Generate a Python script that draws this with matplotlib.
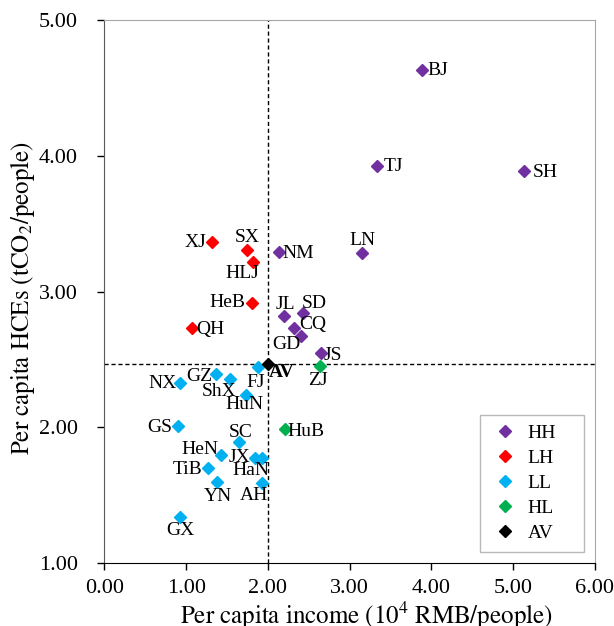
import matplotlib
matplotlib.use("Agg")
import matplotlib.pyplot as plt

plt.rcParams['font.family'] = ['Liberation Serif', 'DejaVu Serif']
plt.rcParams['mathtext.fontset'] = 'stix'

# province data: name, group, income (10^4 RMB/people), HCEs (tCO2/people)
names = ['BJ', 'TJ', 'SH', 'LN', 'NM', 'JL', 'SD', 'CQ', 'GD', 'JS',
         'XJ', 'SX', 'HLJ', 'HeB', 'QH',
         'FJ', 'GZ', 'ShX', 'NX', 'HuN', 'GS', 'SC', 'HeN', 'JX', 'HaN',
         'TiB', 'YN', 'AH', 'GX',
         'ZJ', 'HuB',
         'AV']
groups = ['HH'] * 10 + ['LH'] * 5 + ['LL'] * 14 + ['HL'] * 2 + ['AV']
income = [3.88, 3.33, 5.13, 3.15, 2.13, 2.20, 2.43, 2.32, 2.40, 2.65,
          1.32, 1.74, 1.82, 1.80, 1.07,
          1.88, 1.36, 1.54, 0.92, 1.73, 0.90, 1.65, 1.43, 1.84, 1.93,
          1.27, 1.38, 1.93, 0.93,
          2.64, 2.21,
          2.00]
hces = [4.635, 3.93, 3.89, 3.285, 3.29, 2.82, 2.84, 2.735, 2.675, 2.55,
        3.365, 3.31, 3.22, 2.92, 2.73,
        2.445, 2.39, 2.355, 2.33, 2.24, 2.01, 1.89, 1.80, 1.775, 1.775,
        1.70, 1.595, 1.59, 1.34,
        2.45, 1.99,
        2.47]

group_order = ['HH', 'LH', 'LL', 'HL', 'AV']
group_colors = {'HH': '#7030A0', 'LH': '#FF0000', 'LL': '#00B0F0',
                'HL': '#00B050', 'AV': '#000000'}

# label offsets in pixels (text centre relative to the marker)
label_offsets = {
    'BJ': (16, -1), 'TJ': (17, -1), 'SH': (21, -1), 'LN': (1, 13),
    'NM': (20, -1), 'JL': (1, 12), 'SD': (11, 10), 'CQ': (19, 3),
    'GD': (-14, -9), 'JS': (12, -3), 'XJ': (-17, 0), 'SX': (1, 12),
    'HLJ': (-11, -12), 'HeB': (-24, 0), 'QH': (19, -1), 'FJ': (-2, -15),
    'GZ': (-16, -2), 'ShX': (-11, -12), 'NX': (-17, -1), 'HuN': (-1, -10),
    'GS': (-18, -1), 'SC': (1, 10), 'HeN': (-21, 5), 'JX': (-15, 0),
    'HaN': (-11, -13), 'TiB': (-21, -1), 'YN': (1, -14), 'AH': (-8, -13),
    'GX': (0, -14), 'ZJ': (-2, -14), 'HuB': (21, -3), 'AV': (14, -9),
}

fig = plt.figure(figsize=(6.14, 6.26), dpi=100)
ax = fig.add_axes([0.170, 0.1006, 0.799, 0.8667])

av_x = income[names.index('AV')]
av_y = hces[names.index('AV')]
ax.axvline(av_x, color='black', lw=1, ls=(0, (3, 2)), zorder=1)
ax.axhline(av_y, color='black', lw=1, ls=(0, (3, 2)), zorder=1)

for g in group_order:
    xs = [x for x, gg in zip(income, groups) if gg == g]
    ys = [y for y, gg in zip(hces, groups) if gg == g]
    ax.plot(xs, ys, ls='none', marker='D', ms=6.5, color=group_colors[g],
            label=g, zorder=3)

for n, x, y in zip(names, income, hces):
    dx, dy = label_offsets[n]
    ax.annotate(n, (x, y), xytext=(dx, dy), textcoords='offset pixels',
                ha='center', va='center', fontsize=14,
                fontweight='bold' if n == 'AV' else 'normal', zorder=4)

ax.set_xlim(0, 6)
ax.set_ylim(1, 5)
ax.set_xticks([0, 1, 2, 3, 4, 5, 6])
ax.set_yticks([1, 2, 3, 4, 5])
ax.xaxis.set_major_formatter(matplotlib.ticker.FormatStrFormatter('%.2f'))
ax.yaxis.set_major_formatter(matplotlib.ticker.FormatStrFormatter('%.2f'))
ax.tick_params(axis='both', labelsize=16, direction='out', length=5, width=1)
ax.tick_params(axis='x', pad=6.5)
ax.tick_params(axis='y', pad=14)

ax.spines['left'].set_color('#595959')
ax.spines['bottom'].set_color('black')
ax.spines['top'].set_color('#A6A6A6')
ax.spines['right'].set_color('#A6A6A6')

ax.set_xlabel(r'$\mathrm{Per\ capita\ income\ (10^4\ RMB/people)}$',
              fontsize=18, labelpad=1)
ax.set_ylabel(r'$\mathrm{Per\ capita\ HCEs\ (tCO_2/people)}$',
              fontsize=18, labelpad=1.5)
# the labels sit a little off the axes centre in the original
ax.xaxis.label.set_x(0.534)
ax.yaxis.label.set_y(0.489)

leg = ax.legend(loc='lower left', bbox_to_anchor=(0.7655, 0.0203, 0.212, 0.2),
                mode='expand', borderaxespad=0, fontsize=14, frameon=True,
                fancybox=False, edgecolor='#A6A6A6', labelspacing=0.38,
                handletextpad=0.35, borderpad=0.5, handlelength=1.6)
leg.get_frame().set_linewidth(1)

fig.savefig('out.png', dpi=100)
